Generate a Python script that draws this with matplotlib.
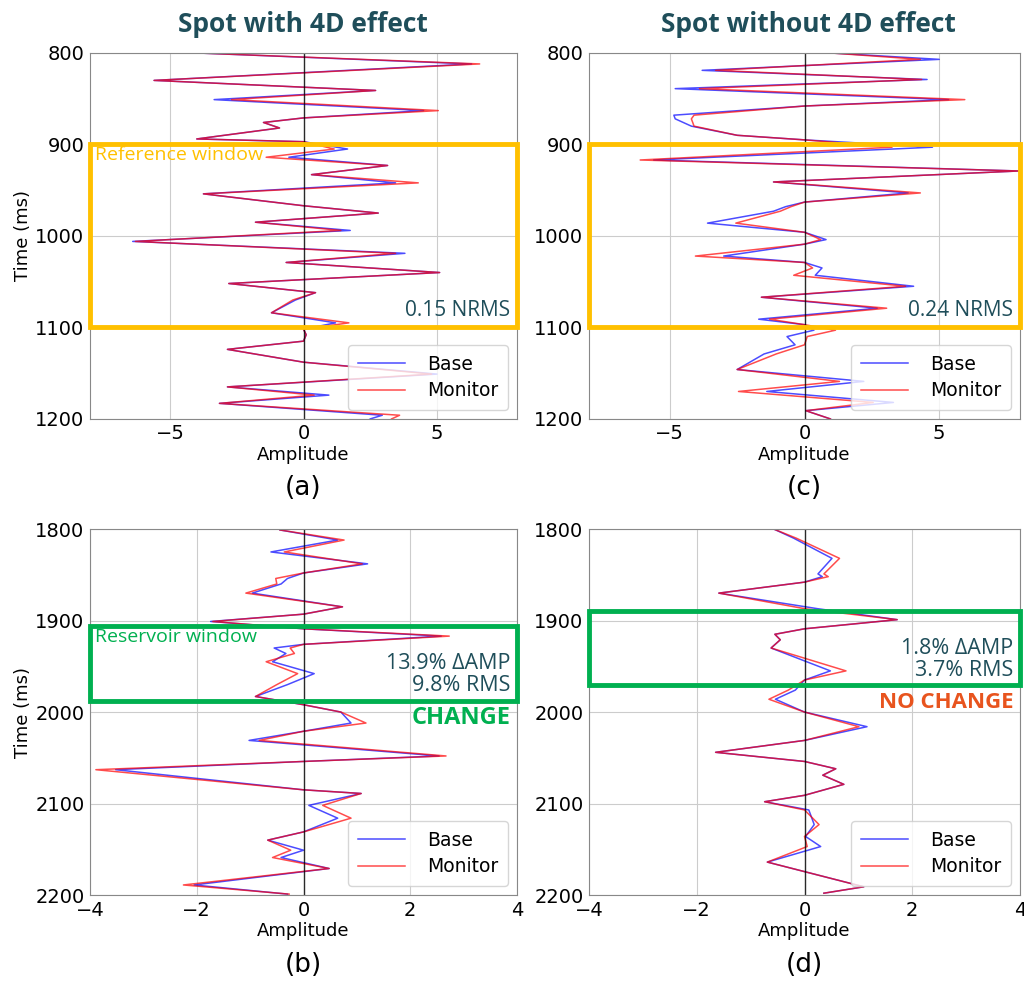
import numpy as np
import matplotlib
matplotlib.use('Agg')
import matplotlib.pyplot as plt
from matplotlib.patches import Rectangle

# ---- data (time in ms, amplitude) ----
# (a) spot with 4D effect, 800-1200 ms
t_a = [800, 812, 830, 841, 851, 863, 871, 876, 882, 894, 897, 905, 914, 923,
       933, 942, 954, 967, 975, 985, 994, 1006, 1019, 1029, 1040, 1052, 1062,
       1070, 1084, 1095, 1102, 1108, 1115, 1124, 1138, 1151, 1165, 1174, 1183,
       1196, 1200]
base_a = [-4.0, 6.3, -5.6, 2.7, -3.35, 4.5, 0.0, -1.5, -0.9, -4.0, 0.0, 1.65,
          -0.55, 3.15, 0.3, 3.45, -3.75, 0.0, 2.8, -1.8, 1.75, -6.4, 3.8, -0.65,
          5.1, -2.8, 0.45, -0.3, -1.2, 1.2, 0.0, 0.1, 0.0, -2.85, 0.0, 5.0,
          -2.85, 0.95, -3.15, 2.95, 2.5]
mon_a = [-4.0, 6.6, -5.6, 2.7, -2.7, 5.05, 0.0, -1.5, -0.9, -4.0, 0.0, 1.15,
         -1.4, 3.15, 0.3, 4.3, -3.75, 0.0, 2.8, -1.8, 1.4, -6.3, 3.45, -0.65,
         5.1, -2.8, 0.45, -0.4, -1.2, 1.7, 0.0, 0.1, 0.0, -2.85, 0.0, 4.8,
         -2.85, 0.4, -3.15, 3.6, 3.3]

# (c) spot without 4D effect, 800-1200 ms
t_c = [800, 807, 819, 829, 839, 851, 858, 868, 872, 880, 890, 895, 903, 917,
       929, 941, 953, 963, 968, 973, 986, 996, 1004, 1009, 1022, 1029, 1035,
       1043, 1055, 1067, 1079, 1091, 1097, 1103, 1110, 1119, 1129, 1146, 1159,
       1170, 1182, 1191, 1200]
base_c = [0.96, 5.0, -3.8, 4.55, -4.8, 5.35, 0.0, -4.85, -4.8, -4.2, -2.5, 0.0,
          4.75, -5.6, 7.95, -1.15, 3.85, 0.0, -0.7, -1.15, -3.6, 0.0, 0.8, 0.0,
          -3.0, 0.0, 0.65, 0.4, 4.05, -1.6, 2.7, -1.7, 0.0, 0.35, -0.65, -0.35,
          -1.5, -2.5, 2.2, -1.4, 3.3, 0.05, 0.96]
mon_c = [0.96, 4.3, -3.3, 4.35, -3.9, 5.95, 0.0, -4.1, -4.2, -4.1, -2.5, 0.0,
         3.25, -6.1, 7.95, -1.15, 4.3, 0.0, -0.5, -0.9, -2.55, 0.0, 0.6, 0.0,
         -4.05, 0.0, 0.3, -0.4, 3.75, -1.6, 3.05, -1.3, 0.0, 1.15, 0.1, 0.0,
         -1.05, -2.5, 1.3, -2.45, 2.55, 0.05, 0.96]

# (b) spot with 4D effect, 1800-2200 ms
t_b = [1801, 1812, 1825, 1838, 1848, 1854, 1860, 1870, 1885, 1893, 1901, 1909,
       1917, 1926, 1930, 1936, 1945, 1958, 1970, 1983, 1992, 2000, 2012, 2021,
       2031, 2048, 2054, 2063, 2085, 2089, 2102, 2116, 2131, 2140, 2151, 2159,
       2171, 2189, 2199]
base_b = [-0.44, 0.64, -0.61, 1.2, 0.0, -0.3, -0.42, -0.96, 0.73, 0.0, -1.74,
          0.0, 2.58, 0.0, -0.55, -0.33, -0.58, 0.2, -0.3, -0.9, 0.0, 0.7, 0.89,
          0.0, -1.02, 2.54, 0.0, -3.52, 0.0, 1.08, 0.1, 0.64, 0.0, -0.67, 0.0,
          -0.42, 0.48, -2.05, -0.3]
mon_b = [-0.44, 0.76, -0.36, 1.1, 0.0, -0.52, -0.5, -1.08, 0.73, 0.0, -1.7,
         0.0, 2.73, 0.0, -0.25, -0.17, -0.7, -0.11, -0.5, -0.9, 0.0, 0.7, 1.17,
         0.0, -0.83, 2.67, 0.0, -3.89, 0.0, 1.08, 0.36, 0.89, 0.0, -0.67, -0.24,
         -0.58, 0.48, -2.25, -0.27]

# (d) spot without 4D effect, 1800-2200 ms
t_d = [1800, 1810, 1832, 1849, 1852, 1858, 1870, 1887, 1899, 1909, 1915, 1921,
       1930, 1955, 1965, 1976, 1986, 2000, 2016, 2031, 2044, 2054, 2062, 2069,
       2079, 2091, 2098, 2107, 2123, 2136, 2147, 2164, 2191, 2198]
base_d = [-0.57, -0.2, 0.51, 0.25, 0.33, 0.0, -1.59, 0.24, 1.72, 0.0, -0.55,
          -0.45, -0.62, 0.48, 0.0, -0.17, -0.54, 0.0, 1.16, 0.0, -1.65, 0.0,
          0.58, 0.34, 0.73, 0.0, -0.74, 0.08, 0.18, 0.02, 0.3, -0.69, 1.1, 0.36]
mon_d = [-0.57, -0.15, 0.65, 0.36, 0.44, 0.0, -1.59, 0.0, 1.72, 0.0, -0.55,
         -0.45, -0.62, 0.77, 0.0, -0.3, -0.66, 0.0, 1.01, 0.0, -1.65, 0.0,
         0.58, 0.34, 0.73, 0.0, -0.74, 0.0, 0.27, 0.0, 0.05, -0.69, 1.1, 0.36]

teal = '#1f4e5a'
orange = '#ffc000'
green = '#00b050'
red_txt = '#e8541e'
ann_font = ['Open Sans', 'DejaVu Sans']

fig = plt.figure(figsize=(10.24, 9.88), dpi=100)
ax_a = fig.add_axes([0.0879, 0.576, 0.417, 0.3704])
ax_c = fig.add_axes([0.5752, 0.576, 0.4209, 0.3704])
ax_b = fig.add_axes([0.0879, 0.0941, 0.417, 0.3704])
ax_d = fig.add_axes([0.5752, 0.0941, 0.4209, 0.3704])

panels = [
    (ax_a, t_a, base_a, mon_a, (-8, 8), (800, 1200), [-5, 0, 5], [800, 900, 1000, 1100, 1200], '(a)'),
    (ax_c, t_c, base_c, mon_c, (-8, 8), (800, 1200), [-5, 0, 5], [800, 900, 1000, 1100, 1200], '(c)'),
    (ax_b, t_b, base_b, mon_b, (-4, 4), (1800, 2200), [-4, -2, 0, 2, 4], [1800, 1900, 2000, 2100, 2200], '(b)'),
    (ax_d, t_d, base_d, mon_d, (-4, 4), (1800, 2200), [-4, -2, 0, 2, 4], [1800, 1900, 2000, 2100, 2200], '(d)'),
]

for ax, t, b, m, xl, yl, xt, yt, lab in panels:
    ax.plot(b, t, color='blue', lw=1.1, alpha=0.7, label='Base')
    ax.plot(m, t, color='red', lw=1.1, alpha=0.7, label='Monitor')
    ax.axvline(0, color='black', lw=1.0, alpha=0.8)
    ax.set_xlim(xl)
    ax.set_ylim(yl[1], yl[0])
    ax.set_xticks(xt)
    ax.set_yticks(yt)
    ax.grid(True, color='#cccccc', lw=0.8)
    ax.tick_params(labelsize=14, length=0, pad=4)
    for s in ax.spines.values():
        s.set_color('#888888')
    ax.set_xlabel('Amplitude', fontsize=13, labelpad=2)
    ax.legend(loc='lower right', fontsize=13.5, handlelength=2.5, borderpad=0.5,
              labelspacing=0.4, handletextpad=1.2)
    ax.text(0.5, -0.19, lab, transform=ax.transAxes, ha='center', va='center', fontsize=19)

ax_a.set_ylabel('Time (ms)', fontsize=13, labelpad=2)
ax_b.set_ylabel('Time (ms)', fontsize=13, labelpad=2)

# reference windows
for ax, txt in [(ax_a, '0.15 NRMS'), (ax_c, '0.24 NRMS')]:
    ax.add_patch(Rectangle((-8, 900), 16, 200, fill=False, ec=orange, lw=3.5,
                           clip_on=False, zorder=5))
    ax.text(7.75, 1093, txt, ha='right', va='bottom', fontsize=15, color=teal,
            family=ann_font)
ax_a.text(-7.8, 902, 'Reference window', ha='left', va='top', fontsize=14,
          color=orange, family=ann_font)

# reservoir windows
ax_b.add_patch(Rectangle((-4, 1906), 8, 82, fill=False, ec=green, lw=3.5,
                         clip_on=False, zorder=5))
ax_b.text(-3.9, 1908, 'Reservoir window', ha='left', va='top', fontsize=14,
          color=green, family=ann_font)
ax_b.text(3.88, 1982, '13.9% \u0394AMP\n9.8% RMS', ha='right', va='bottom',
          fontsize=15.5, color=teal, family=ann_font, linespacing=1.05)
ax_b.text(3.88, 2006, 'CHANGE', ha='right', va='center', fontsize=17,
          color=green, fontweight='bold', family=ann_font)

ax_d.add_patch(Rectangle((-4, 1890), 8, 80, fill=False, ec=green, lw=3.5,
                         clip_on=False, zorder=5))
ax_d.text(3.88, 1966, '1.8% \u0394AMP\n3.7% RMS', ha='right', va='bottom',
          fontsize=15.5, color=teal, family=ann_font, linespacing=1.05)
ax_d.text(3.88, 1990, 'NO CHANGE', ha='right', va='center', fontsize=16,
          color=red_txt, fontweight='bold', family=ann_font)

fig.text(303 / 1024, 1 - 24 / 988, 'Spot with 4D effect', ha='center', va='center',
         fontsize=19, fontweight='bold', color=teal, family=ann_font)
fig.text(808 / 1024, 1 - 24 / 988, 'Spot without 4D effect', ha='center', va='center',
         fontsize=19, fontweight='bold', color=teal, family=ann_font)

fig.savefig('out.png', dpi=100, facecolor='white')
